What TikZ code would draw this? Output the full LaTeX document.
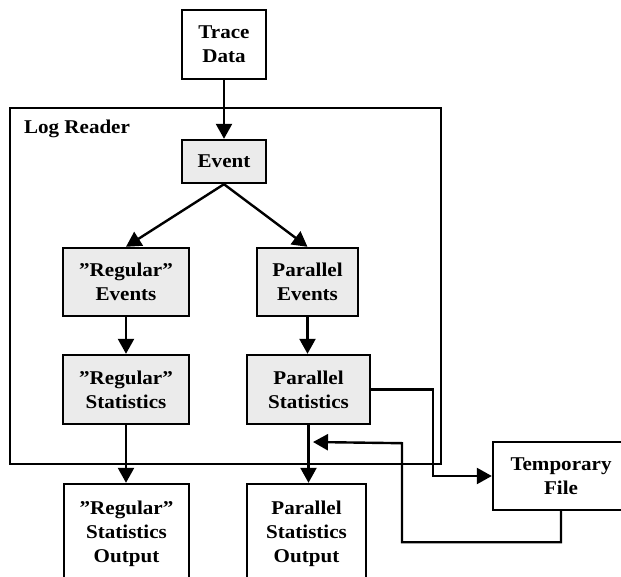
\documentclass[tikz,border=0pt]{standalone}
\usepackage{fontspec}
\setmainfont{Liberation Serif}[FakeStretch=1.08]
\usepackage{tikz}
\usetikzlibrary{arrows.meta,positioning,calc}

\begin{document}
\begin{tikzpicture}[
  x=1pt, y=-1pt,
  box/.style={draw, line width=2.4pt, align=center, inner sep=0pt, font=\fontsize{19.5}{24}\selectfont\bfseries},
  grey/.style={box, fill=gray!16},
  wire/.style={line width=2.4pt},
  >={Triangle[length=15pt, width=16pt]}
]
\useasboundingbox (0,0) rectangle (621,577);
\clip (0,0) rectangle (621,577);
% log reader frame
\node[draw, line width=2.2pt, minimum width=431pt, minimum height=356pt, inner sep=0pt] (reader) at (225.5,286) {};
\node[anchor=north west, inner sep=0pt, font=\fontsize{19.5}{24}\selectfont\bfseries] (readerlabel) at ($(reader.north west)+(15,13)$) {Log Reader};
% boxes
\node[box, minimum width=84pt, minimum height=69pt] (trace) at (224,44.5) {Trace\\Data};
\node[grey, minimum width=84pt, minimum height=43pt] (event) at (224,161.5) {Event};
\node[grey, minimum width=126pt, minimum height=68pt] (regev) at (126,282) {”Regular”\\Events};
\node[grey, minimum width=101pt, minimum height=68pt] (parev) at (307.5,282) {Parallel\\Events};
\node[grey, minimum width=126pt, minimum height=69pt] (regst) at (126,389.5) {”Regular”\\Statistics};
\node[grey, minimum width=123pt, minimum height=69pt] (parst) at (308.5,389.5) {Parallel\\Statistics};
\node[box, minimum width=125pt, minimum height=100pt] (regout) at (126.5,534) {”Regular”\\Statistics\\Output};
\node[box, minimum width=119pt, minimum height=100pt] (parout) at (306.5,534) {Parallel\\Statistics\\Output};
\node[box, minimum width=136pt, minimum height=68pt] (temp) at (561,476) {Temporary\\File};
\coordinate (back) at (313,442);
% connectors
\draw[wire,->] (trace) -- (event);
\draw[wire,->] (event.south) -- (regev.north);
\draw[wire,->] (event.south) -- (parev.north);
\draw[wire,->] (regev.south) -- (regev.south |- regst.north);
\draw[wire,->] (parev.south) -- (parev.south |- parst.north);
\draw[wire,->] (regst.south) -- (regst.south |- regout.north);
\draw[wire,->] (parst.south) -- (parst.south |- parout.north);
\draw[wire,->] (parst.east) -- ++(62,0) |- (temp.west);
\draw[wire,->] (temp.south) -- ++(0,31) -| ++(-159,-99) -- (back);
\end{tikzpicture}
\end{document}
